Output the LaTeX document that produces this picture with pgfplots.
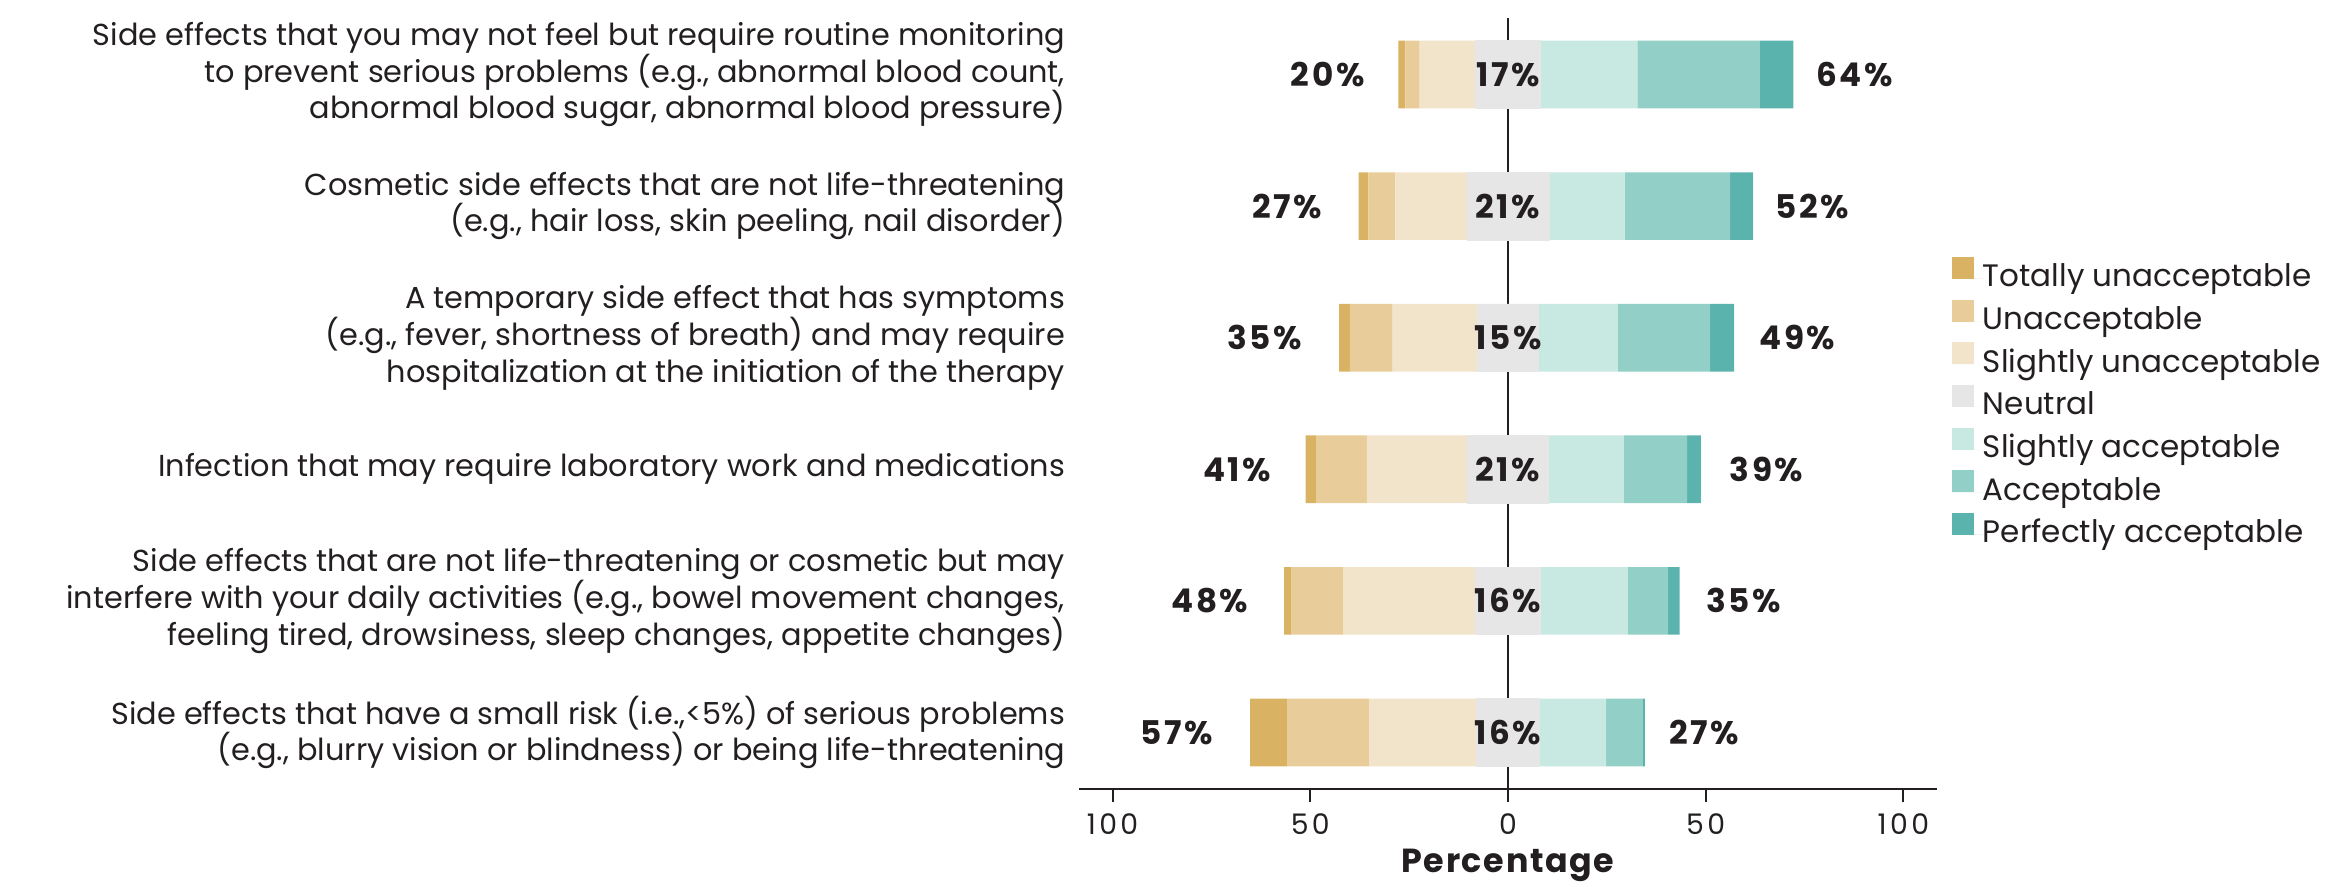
\documentclass[border=0pt]{standalone}
\usepackage{fontspec}
\setmainfont{Poppins}
\newfontfamily\tickfont{Poppins}[LetterSpace=12]
\newfontfamily\pctfont{Poppins}[LetterSpace=8]
\newfontfamily\xlabfont{Poppins}[LetterSpace=5]
\usepackage{pgfplots}
\pgfplotsset{compat=1.18}
\usepackage{pgfplotstable}
\definecolor{cTU}{HTML}{D9B263}
\definecolor{cU}{HTML}{E8CD9A}
\definecolor{cSU}{HTML}{F1E4CA}
\definecolor{cN}{HTML}{E6E6E6}
\definecolor{cSA}{HTML}{C8E8E2}
\definecolor{cA}{HTML}{92CFC6}
\definecolor{cPA}{HTML}{5BB3AD}
\definecolor{txt}{HTML}{231F20}

% negative side: half of neutral, slightly unacc., unacc., totally unacc. (stacked leftwards)
% positive side: half of neutral, slightly acc., acc., perfectly acc. (stacked rightwards)
\pgfplotstableread{
y Nn SUn Un TUn Np SA A PA
0 -7.9 -27.2 -20.6 -9.5 7.9 16.9 9.3 0.5
1 -8.2 -33.5 -13.0 -1.9 8.2 22.1 10.2 2.9
2 -10.2 -25.5 -12.7 -2.8 10.2 19.1 16.0 3.5
3 -7.7 -21.5 -10.8 -2.7 7.7 20.1 23.3 6.1
4 -10.4 -18.1 -6.8 -2.5 10.4 19.1 26.7 5.8
5 -8.25 -14.1 -3.6 -1.75 8.25 24.5 30.8 8.6
}\bars
\pgfplotstableread{
y x v
5 -45.6 20
4 -55.8 27
3 -61.5 35
2 -68.5 41
1 -75.4 48
0 -83.7 57
}\leftlab
\pgfplotstableread{
y x v
5 0 17
4 0 21
3 0 15
2 0 21
1 0 16
0 0 16
}\midlab
\pgfplotstableread{
y x v
5 87.6 64
4 77.0 52
3 73.2 49
2 65.4 39
1 59.6 35
0 49.6 27
}\rightlab

\pgfplotsset{common/.style={scale only axis, width=257.4pt, height=231.3pt,
  xmin=-108.5, xmax=108.5, ymin=-0.43, ymax=5.43}}

\begin{document}
\begin{tikzpicture}
\useasboundingbox (-323.7pt,-29.1pt) rectangle (381.6pt,236.7pt);
\begin{axis}[common, xbar stacked, bar width=20.3pt,
  axis x line*=bottom, axis y line*=left,
  x axis line style={-, line width=0.8pt, color=txt},
  y axis line style={draw=none},
  xtick={-100,-50,0,50,100}, xticklabels={100,50,0,50,100},
  tick align=outside, major tick length=4pt,
  xtick style={line width=0.6pt, color=txt},
  ytick={0,1,2,3,4,5}, ytick style={draw=none},
  yticklabels={
    {Side effects that have a small risk (i.e.,<5\%) of serious problems\\(e.g., blurry vision or blindness) or being life-threatening},
    {Side effects that are not life-threatening or cosmetic but may\\interfere with your daily activities (e.g., bowel movement changes,\\feeling tired, drowsiness, sleep changes, appetite changes)},
    {Infection that may require laboratory work and medications},
    {A temporary side effect that has symptoms\\(e.g., fever, shortness of breath) and may require\\hospitalization at the initiation of the therapy},
    {Cosmetic side effects that are not life-threatening\\(e.g., hair loss, skin peeling, nail disorder)},
    {Side effects that you may not feel but require routine monitoring\\to prevent serious problems (e.g., abnormal blood count,\\abnormal blood sugar, abnormal blood pressure)}
  },
  yticklabel style={align=right, font=\fontsize{9.1}{11}\selectfont, inner sep=0pt, text=txt},
  xticklabel style={font=\tickfont\fontsize{8.5}{10}\selectfont, text=txt},
  /pgf/number format/assume math mode=true,
  xlabel={Percentage},
  xlabel style={font=\xlabfont\bfseries\fontsize{10}{12}\selectfont, text=txt, at={(axis description cs:0.5,0)}, anchor=center, yshift=-23pt},
  extra x ticks={0}, extra x tick labels={\empty},
  extra x tick style={grid=major, major grid style={txt, line width=0.6pt}, major tick length=0pt},
]
\addplot[fill=cN, draw=cN, line width=0.2pt] table[x=Nn, y=y]{\bars};
\addplot[fill=cSU, draw=none] table[x=SUn, y=y]{\bars};
\addplot[fill=cU, draw=none] table[x=Un, y=y]{\bars};
\addplot[fill=cTU, draw=none] table[x=TUn, y=y]{\bars};
\addplot[fill=cN, draw=cN, line width=0.2pt] table[x=Np, y=y]{\bars};
\addplot[fill=cSA, draw=none] table[x=SA, y=y]{\bars};
\addplot[fill=cA, draw=none] table[x=A, y=y]{\bars};
\addplot[fill=cPA, draw=none] table[x=PA, y=y]{\bars};
\end{axis}
\begin{axis}[common, hide axis,
  /pgf/number format/assume math mode=true,
  nodes near coords={\pgfmathprintnumber{\pgfplotspointmeta}\%},
  point meta=explicit,
  nodes near coords style={anchor=center, font=\pctfont\bfseries\fontsize{9.8}{11}\selectfont, text=txt},
  legend style={at={(1,0.5)}, anchor=west, xshift=4.5pt, draw=none, fill=none,
    inner sep=0pt, outer sep=0pt, row sep=1.6pt,
    font=\fontsize{9.3}{11}\selectfont, text=txt,
    nodes={inner sep=0pt, text height=7pt, text depth=2.2pt}},
  legend cell align=left,
  legend image code/.code={\fill[#1, draw=none] (0pt,0pt) rectangle (6.6pt,6.6pt); \path[draw=none] (0pt,0pt) -- (9.3pt,0pt);},
]
\addlegendimage{fill=cTU}\addlegendentry{Totally unacceptable}
\addlegendimage{fill=cU}\addlegendentry{Unacceptable}
\addlegendimage{fill=cSU}\addlegendentry{Slightly unacceptable}
\addlegendimage{fill=cN}\addlegendentry{Neutral}
\addlegendimage{fill=cSA}\addlegendentry{Slightly acceptable}
\addlegendimage{fill=cA}\addlegendentry{Acceptable}
\addlegendimage{fill=cPA}\addlegendentry{Perfectly acceptable}
\addplot[only marks, mark=*, mark size=0pt, mark options={draw=none, fill=none}] table[x=x, y=y, meta=v]{\leftlab};
\addplot[only marks, mark=*, mark size=0pt, mark options={draw=none, fill=none}] table[x=x, y=y, meta=v]{\midlab};
\addplot[only marks, mark=*, mark size=0pt, mark options={draw=none, fill=none}] table[x=x, y=y, meta=v]{\rightlab};
\end{axis}
\end{tikzpicture}
\end{document}
